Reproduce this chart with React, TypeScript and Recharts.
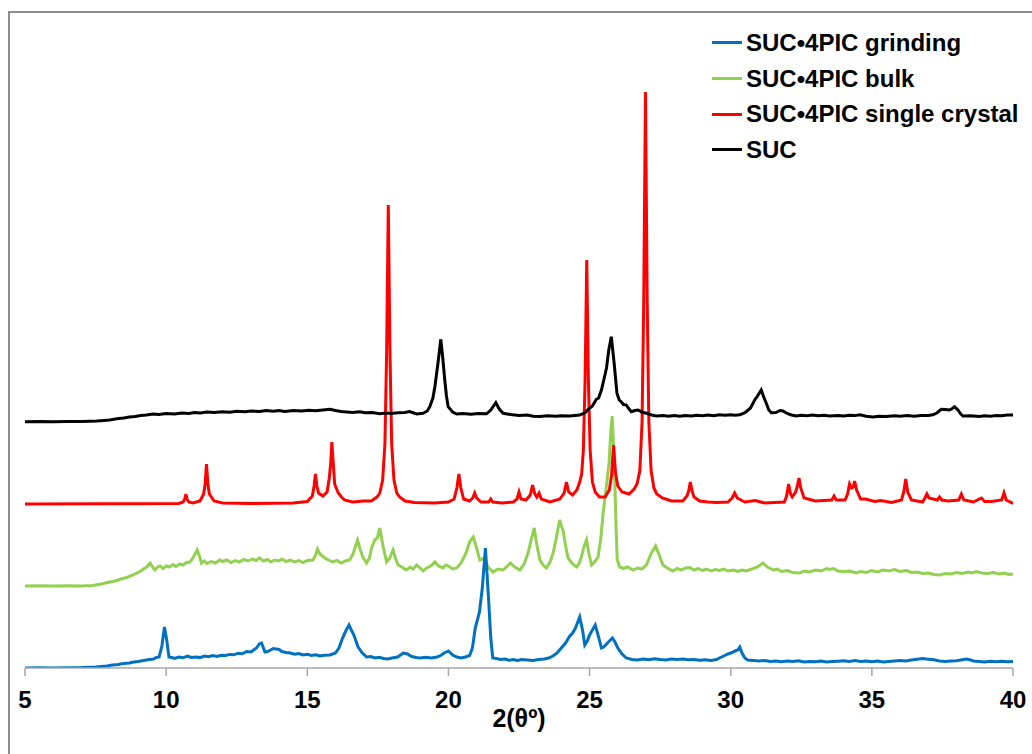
import { LineChart, Line, XAxis, YAxis } from 'recharts'

// 2θ positions and intensity (height above the axis, arbitrary units)
const xTicks = [5, 10, 15, 20, 25, 30, 35, 40]

const grinding: [number, number][] = [
  [5.0, 0], [5.5, 0.2], [6.0, 0], [6.5, 0.3], [7.0, 0.4], [7.3, 0.8], [7.5, 1], [7.7, 1.6],
  [7.9, 2], [8.1, 2.9], [8.3, 3.5], [8.5, 4.6], [8.7, 5], [8.8, 5.8], [9.0, 6.5], [9.2, 7.5],
  [9.35, 8.3], [9.55, 9], [9.65, 10.5], [9.75, 11], [9.85, 22], [9.94, 41], [10.02, 28],
  [10.1, 11], [10.2, 10.5], [10.3, 9.5], [10.45, 11], [10.6, 10.2], [10.75, 11.8], [10.9, 10.5],
  [11.05, 11], [11.2, 10.4], [11.35, 12], [11.5, 11.2], [11.65, 12.4], [11.8, 11.6], [11.95, 12.8],
  [12.1, 12.5], [12.25, 13.6], [12.4, 13.2], [12.55, 14.8], [12.7, 14.2], [12.85, 16.5], [13.0, 16],
  [13.1, 18], [13.2, 20], [13.3, 24], [13.38, 25], [13.5, 16], [13.6, 16.5], [13.7, 18],
  [13.8, 19.5], [13.9, 19], [14.0, 18.5], [14.1, 16.5], [14.25, 15.5], [14.4, 15], [14.55, 13.8],
  [14.7, 14.5], [14.85, 13], [15.0, 13.8], [15.15, 12.5], [15.3, 13.2], [15.45, 12], [15.6, 12.8],
  [15.8, 13], [16.0, 15], [16.12, 20], [16.25, 30], [16.38, 38], [16.48, 43], [16.56, 38],
  [16.65, 33], [16.8, 21], [16.95, 15], [17.1, 11], [17.25, 11.5], [17.4, 10], [17.55, 10.8],
  [17.7, 9.5], [17.85, 9], [18.0, 10], [18.2, 11], [18.4, 15], [18.55, 14], [18.7, 11.5],
  [18.85, 10.5], [19.0, 10], [19.2, 10.8], [19.4, 10], [19.6, 11], [19.75, 13], [19.85, 15],
  [20.0, 17], [20.15, 13], [20.3, 11], [20.45, 10], [20.6, 11], [20.75, 12.5], [20.85, 20],
  [20.95, 40], [21.1, 56], [21.2, 80], [21.31, 120], [21.42, 70], [21.5, 30], [21.57, 10],
  [21.7, 9.5], [21.85, 8.5], [22.0, 9], [22.15, 7.8], [22.3, 8.5], [22.45, 7.5], [22.6, 8.5],
  [22.8, 8], [23.0, 7.5], [23.2, 8.5], [23.4, 9], [23.55, 10], [23.7, 12], [23.85, 15], [24.0, 20],
  [24.15, 25], [24.3, 32], [24.4, 35], [24.5, 40], [24.65, 51], [24.75, 38], [24.83, 23],
  [24.92, 27], [25.0, 33], [25.1, 38], [25.2, 43], [25.3, 33], [25.42, 20], [25.5, 21], [25.6, 24],
  [25.7, 27], [25.81, 30], [25.9, 26], [26.0, 20], [26.15, 14], [26.3, 10], [26.5, 8.5], [26.7, 8],
  [26.9, 9], [27.1, 8.2], [27.3, 9.2], [27.5, 8.5], [27.7, 8], [27.9, 9], [28.1, 8.4], [28.3, 9],
  [28.5, 8.2], [28.7, 8.6], [28.9, 7.8], [29.1, 8.2], [29.3, 7.5], [29.5, 8.5], [29.6, 10],
  [29.75, 12], [29.9, 14], [30.05, 15.5], [30.15, 17], [30.25, 18], [30.32, 21], [30.4, 15],
  [30.5, 10], [30.6, 8], [30.8, 7.6], [31.0, 7], [31.2, 7.5], [31.4, 6.5], [31.6, 7], [31.8, 6.2],
  [32.0, 7], [32.2, 6.4], [32.4, 7.2], [32.6, 6], [32.8, 6.6], [33.0, 6.2], [33.2, 7], [33.4, 6],
  [33.6, 6.5], [33.8, 6.8], [34.0, 7.2], [34.2, 6.5], [34.4, 7.4], [34.6, 6.5], [34.8, 7],
  [35.0, 6.2], [35.2, 7], [35.4, 6], [35.6, 6.5], [35.8, 7], [36.0, 7.5], [36.2, 7], [36.4, 8],
  [36.6, 8.8], [36.8, 9.5], [37.0, 8.8], [37.2, 8.2], [37.4, 7], [37.6, 6.5], [37.8, 7], [38.0, 7.2],
  [38.2, 8.2], [38.35, 9], [38.5, 8], [38.6, 7], [38.8, 6.5], [39.0, 6], [39.2, 6.8], [39.4, 6.2],
  [39.6, 6.8], [39.8, 6.2], [40.0, 6.5],
]

const bulk: [number, number][] = [
  [5.0, 82], [5.5, 82.2], [6.0, 82], [6.5, 82.3], [7.0, 82], [7.4, 82.5], [7.7, 84], [8.0, 86],
  [8.2, 87], [8.4, 89], [8.6, 90.5], [8.83, 93], [9.0, 95.5], [9.1, 97], [9.2, 99], [9.31, 101],
  [9.43, 105], [9.52, 101], [9.6, 98], [9.7, 101], [9.78, 102], [9.9, 99.5], [10.0, 102],
  [10.1, 101], [10.25, 103.5], [10.35, 101.5], [10.49, 104], [10.6, 103], [10.72, 105.5],
  [10.84, 106], [10.95, 110], [11.1, 118], [11.18, 112], [11.25, 105], [11.35, 107], [11.45, 104.5],
  [11.6, 106.5], [11.75, 105], [11.9, 108], [12.0, 106.5], [12.15, 108], [12.3, 105.5],
  [12.45, 107.5], [12.6, 106], [12.75, 108.5], [12.9, 107], [13.05, 109], [13.2, 107.5],
  [13.3, 110], [13.45, 107], [13.6, 108.5], [13.7, 106], [13.85, 108], [14.0, 107], [14.1, 109],
  [14.25, 106.5], [14.4, 108], [14.55, 106], [14.7, 107.5], [14.85, 105.5], [15.0, 107.5],
  [15.2, 108], [15.3, 113], [15.36, 119], [15.45, 114], [15.62, 110], [15.75, 108], [15.9, 106],
  [16.05, 107.5], [16.2, 105], [16.35, 107], [16.5, 108], [16.62, 114], [16.78, 128], [16.88, 118],
  [16.97, 111], [17.1, 105], [17.2, 110], [17.28, 120], [17.39, 128], [17.48, 130], [17.57, 140],
  [17.63, 130], [17.69, 121], [17.81, 106], [17.92, 110], [18.04, 118], [18.12, 110], [18.22, 103],
  [18.35, 101], [18.5, 98], [18.65, 101], [18.75, 99], [18.87, 103], [19.0, 100], [19.1, 97],
  [19.2, 99.5], [19.3, 101], [19.42, 103], [19.52, 106], [19.65, 102], [19.81, 100], [19.9, 103],
  [20.0, 102], [20.15, 99], [20.29, 100], [20.45, 105], [20.64, 116], [20.75, 126], [20.88, 131],
  [20.98, 122], [21.11, 108], [21.2, 109], [21.29, 110], [21.4, 101], [21.58, 96], [21.75, 99],
  [21.94, 98], [22.05, 101], [22.2, 105], [22.35, 101], [22.53, 98], [22.68, 104], [22.82, 115],
  [22.93, 128], [23.04, 140], [23.12, 125], [23.24, 108], [23.35, 103], [23.47, 100], [23.6, 106],
  [23.71, 115], [23.82, 130], [23.94, 148], [24.0, 142], [24.06, 138], [24.15, 122], [24.24, 110],
  [24.4, 104], [24.54, 101], [24.62, 104], [24.71, 111], [24.8, 121], [24.89, 128], [24.98, 114],
  [25.07, 103], [25.18, 106], [25.3, 111], [25.4, 130], [25.48, 155], [25.58, 178], [25.69, 205],
  [25.75, 235], [25.8, 252], [25.86, 215], [25.9, 180], [25.94, 140], [25.98, 108], [26.07, 101],
  [26.2, 99.5], [26.35, 101], [26.54, 98], [26.7, 100], [26.85, 99], [27.01, 103], [27.1, 109],
  [27.19, 115], [27.34, 122], [27.45, 114], [27.6, 103], [27.75, 100], [27.96, 97], [28.1, 99.5],
  [28.25, 98], [28.4, 100], [28.55, 100.5], [28.7, 98], [28.85, 99.5], [29.0, 97.5], [29.15, 99],
  [29.3, 97], [29.45, 98.5], [29.6, 97.5], [29.75, 99], [29.9, 97], [30.1, 98], [30.25, 96.5],
  [30.4, 98], [30.55, 97], [30.75, 99], [30.95, 101], [31.14, 105], [31.3, 101], [31.5, 98],
  [31.65, 99], [31.8, 96.5], [32.0, 97.5], [32.2, 95.5], [32.44, 95], [32.6, 97], [32.8, 96],
  [33.0, 98], [33.2, 97], [33.4, 99.5], [33.5, 98.5], [33.65, 99.5], [33.8, 97], [34.0, 96.5],
  [34.2, 97], [34.45, 95], [34.6, 96.5], [34.8, 95.5], [35.0, 97.5], [35.2, 96], [35.4, 98],
  [35.6, 97], [35.8, 98.5], [36.0, 96.5], [36.22, 97.5], [36.4, 95.5], [36.6, 96], [36.8, 94.5],
  [37.0, 95], [37.2, 93.5], [37.4, 93], [37.6, 94.5], [37.8, 94], [38.0, 95.5], [38.2, 94.5],
  [38.4, 96], [38.55, 95], [38.7, 96.5], [38.9, 95], [39.1, 94.5], [39.3, 95.5], [39.5, 94],
  [39.7, 95], [39.85, 93.5], [40.0, 94],
]

const singleCrystal: [number, number][] = [
  [5.0, 164], [10.45, 164.5], [10.6, 166], [10.66, 169], [10.7, 174], [10.74, 169], [10.8, 166],
  [10.95, 165], [11.2, 167], [11.33, 174], [11.38, 184], [11.43, 204], [11.48, 184], [11.53, 174],
  [11.7, 167], [12.0, 165], [13.0, 164.5], [14.5, 165], [15.0, 166.5], [15.18, 172], [15.24, 182],
  [15.29, 194], [15.34, 182], [15.4, 175], [15.55, 172], [15.7, 176], [15.78, 190], [15.83, 205],
  [15.87, 226], [15.92, 205], [15.97, 184], [16.04, 179], [16.1, 175], [16.21, 171], [16.32, 168],
  [16.6, 166], [17.0, 167], [17.27, 167], [17.47, 171], [17.57, 175], [17.67, 188], [17.75, 224],
  [17.81, 314], [17.87, 463], [17.93, 314], [17.99, 224], [18.07, 188], [18.17, 175],
  [18.27, 171], [18.47, 167], [18.8, 165.5], [19.5, 165], [20.0, 166], [20.2, 169], [20.3, 180],
  [20.37, 194], [20.44, 180], [20.54, 169], [20.75, 167], [20.86, 170], [20.93, 175], [21.0, 170],
  [21.15, 166], [21.43, 166], [21.5, 169], [21.57, 166], [21.9, 165], [22.3, 166], [22.43, 169],
  [22.5, 176], [22.57, 169], [22.75, 168], [22.9, 173], [22.98, 183], [23.06, 174], [23.13, 171],
  [23.21, 175], [23.29, 169], [23.6, 166], [23.95, 169], [24.1, 175], [24.18, 186], [24.26, 176],
  [24.4, 173], [24.55, 178], [24.65, 186], [24.72, 194], [24.78, 218], [24.84, 286], [24.9, 408],
  [24.96, 286], [25.02, 218], [25.1, 186], [25.2, 176], [25.35, 171], [25.55, 171], [25.7, 178],
  [25.78, 193], [25.85, 223], [25.92, 195], [26.0, 182], [26.15, 176], [26.4, 174], [26.58, 179],
  [26.68, 184], [26.78, 197], [26.86, 246], [26.92, 370], [26.98, 576], [27.04, 370], [27.1, 246],
  [27.18, 197], [27.28, 180], [27.38, 174], [27.58, 170], [27.9, 167], [28.3, 167], [28.45, 172],
  [28.51, 177], [28.57, 186], [28.63, 177], [28.7, 171], [28.9, 167], [29.2, 166], [29.49, 165.5],
  [29.9, 166], [30.05, 170], [30.14, 175], [30.23, 170], [30.5, 166], [30.87, 167.5], [31.2, 165],
  [31.9, 166], [31.98, 172], [32.05, 184], [32.12, 174], [32.18, 171], [32.3, 176], [32.36, 182],
  [32.42, 190], [32.48, 180], [32.6, 170], [33.0, 167], [33.58, 168], [33.66, 172], [33.74, 168],
  [34.05, 168], [34.14, 174], [34.21, 184], [34.28, 180], [34.34, 181], [34.39, 187], [34.46, 178],
  [34.6, 169], [34.77, 169], [35.1, 166.5], [35.31, 167.5], [35.7, 165.5], [36.05, 168],
  [36.13, 176], [36.2, 189], [36.27, 176], [36.4, 168], [36.8, 166], [36.88, 170], [36.95, 174],
  [37.02, 170], [37.32, 168], [37.4, 171], [37.48, 168], [37.7, 167], [38.08, 168], [38.17, 174],
  [38.26, 168], [38.6, 166], [38.88, 170], [39.0, 166.5], [39.23, 166.5], [39.6, 168],
  [39.68, 175], [39.76, 168], [40.0, 164.5],
]

const suc: [number, number][] = [
  [5.0, 246.3], [5.5, 246.5], [6.0, 246.3], [6.5, 246.6], [7.0, 246.5], [7.3, 246.7], [7.54, 247],
  [7.8, 247.6], [8.0, 248], [8.25, 249.2], [8.5, 250], [8.7, 251], [8.9, 251.5], [9.1, 252.5],
  [9.3, 253], [9.54, 254], [9.75, 253.5], [10.0, 254.5], [10.3, 254], [10.55, 255], [10.8, 254.5],
  [11.0, 255.5], [11.2, 255], [11.45, 256], [11.7, 255.5], [12.0, 256.3], [12.25, 255.8],
  [12.5, 256.8], [12.8, 256.2], [13.0, 257], [13.3, 256.5], [13.56, 257.5], [13.8, 256.8],
  [14.0, 257.4], [14.2, 256.6], [14.5, 257.6], [14.8, 257], [15.05, 257.8], [15.3, 257.2],
  [15.55, 258], [15.8, 258.7], [16.0, 257.5], [16.2, 256.5], [16.4, 256], [16.6, 255.6],
  [16.85, 256.2], [17.05, 255.2], [17.3, 255.4], [17.57, 254.3], [17.8, 255], [18.0, 254.5],
  [18.2, 255.2], [18.45, 255.5], [18.63, 256.5], [18.87, 254], [19.1, 254.7], [19.25, 257],
  [19.34, 261.3], [19.45, 270], [19.52, 281.3], [19.63, 305], [19.73, 328.7], [19.8, 310],
  [19.87, 288], [19.93, 272], [19.99, 261.3], [20.15, 256], [20.29, 254], [20.5, 254.6],
  [20.8, 253.8], [21.05, 254.5], [21.35, 254.2], [21.5, 258], [21.68, 265.3], [21.8, 259],
  [21.94, 254.7], [22.2, 253.5], [22.5, 252.5], [22.8, 253], [23.0, 251.8], [23.24, 251.5],
  [23.5, 252.3], [23.8, 251.8], [24.0, 252.3], [24.3, 252], [24.65, 253], [24.85, 255.5],
  [24.95, 258.7], [25.1, 262], [25.24, 268.7], [25.32, 270], [25.42, 278], [25.52, 290],
  [25.6, 300], [25.68, 318], [25.77, 331.3], [25.87, 305], [25.97, 274.7], [26.05, 268],
  [26.13, 266], [26.2, 263.5], [26.3, 263], [26.4, 259], [26.48, 256.3], [26.6, 257.5],
  [26.72, 258], [26.85, 256], [27.01, 254.7], [27.2, 253], [27.37, 252], [27.6, 252.6],
  [27.8, 251.8], [28.0, 252.4], [28.19, 251.8], [28.4, 252.6], [28.6, 252], [28.8, 252.8],
  [29.0, 252.3], [29.2, 253], [29.4, 252.2], [29.6, 253.2], [29.8, 252.8], [30.0, 253.3],
  [30.15, 252.8], [30.32, 253.3], [30.45, 254.5], [30.55, 256.3], [30.7, 260], [30.85, 268],
  [30.95, 272], [31.08, 278], [31.17, 271], [31.26, 264.7], [31.35, 258], [31.44, 255.3],
  [31.6, 255.5], [31.75, 257.5], [31.85, 257], [32.0, 254.5], [32.15, 253], [32.33, 252],
  [32.5, 252.8], [32.7, 252.2], [32.9, 253], [33.1, 252.2], [33.3, 252.8], [33.5, 252],
  [33.8, 252.5], [34.0, 252], [34.2, 252.8], [34.4, 252.4], [34.57, 253.3], [34.8, 251.8],
  [35.04, 251], [35.25, 251.8], [35.5, 251.4], [35.8, 252.3], [36.0, 251.8], [36.25, 252.4],
  [36.5, 251.8], [36.75, 252.6], [37.0, 252.4], [37.16, 253.2], [37.3, 255], [37.46, 258.7],
  [37.6, 258.5], [37.75, 258], [37.85, 259.5], [37.93, 261.3], [38.05, 258], [38.15, 254],
  [38.23, 252], [38.5, 252.3], [38.8, 251.5], [39.0, 252.2], [39.2, 251.8], [39.4, 252.6],
  [39.6, 252.2], [39.8, 253], [40.0, 253],
]

const FONT = 'Arial, "Liberation Sans", sans-serif'

// drawing order (bottom to top) differs from the legend order
const series = [
  { id: 'bulk', name: 'SUC\u20224PIC bulk', color: '#92d050', points: bulk },
  { id: 'grinding', name: 'SUC\u20224PIC grinding', color: '#0070c0', points: grinding },
  { id: 'crystal', name: 'SUC\u20224PIC single crystal', color: '#ff0000', points: singleCrystal },
  { id: 'suc', name: 'SUC', color: '#000000', points: suc },
]
const legendOrder = ['grinding', 'bulk', 'crystal', 'suc']

const toRows = (pts: [number, number][]) => pts.map(([x, y]) => ({ x, y }))

function LegendBox() {
  return (
    <div style={{ position: 'absolute', left: 712, top: 25, fontFamily: FONT }}>
      {legendOrder.map((id) => {
        const s = series.find((d) => d.id === id)!
        return (
          <div key={id} style={{ display: 'flex', alignItems: 'center', height: 35.7 }}>
            <div style={{ width: 30, height: 3, background: s.color, marginRight: 4 }} />
            <span style={{ fontSize: 24, fontWeight: 'bold', color: '#000', whiteSpace: 'nowrap' }}>
              {s.name}
            </span>
          </div>
        )
      })}
    </div>
  )
}

export default function App() {
  return (
    <div
      style={{
        position: 'absolute',
        left: 0,
        top: 0,
        width: 1032,
        height: 754,
        overflow: 'hidden',
        background: '#fff',
      }}
    >
      <div
        style={{
          position: 'absolute',
          left: 8,
          top: 11,
          width: 1100,
          height: 800,
          border: '2px solid #8c8c8c',
        }}
      />
      <LineChart
        width={1032}
        height={754}
        margin={{ top: 20, right: 19, left: 25, bottom: 26 }}
        style={{ position: 'absolute', left: 0, top: 0 }}
      >
        <XAxis
          dataKey="x"
          type="number"
          domain={[5, 40]}
          ticks={xTicks}
          height={60}
          allowDataOverflow
          stroke="#a6a6a6"
          axisLine={{ stroke: '#a6a6a6', strokeWidth: 1.5 }}
          tickLine={{ stroke: '#a6a6a6', strokeWidth: 1.5 }}
          tickSize={8}
          tickMargin={15}
          tick={{ fill: '#000', fontSize: 24, fontWeight: 'bold', fontFamily: FONT }}
          label={{
            value: '2(θº)',
            position: 'bottom',
            offset: -19,
            fill: '#000',
            fontSize: 25,
            fontWeight: 'bold',
            fontFamily: FONT,
          }}
        />
        <YAxis type="number" domain={[0, 648]} hide allowDataOverflow />
        {series.map((s) => (
          <Line
            key={s.id}
            data={toRows(s.points)}
            dataKey="y"
            name={s.name}
            type="linear"
            stroke={s.color}
            strokeWidth={3}
            dot={false}
            activeDot={false}
            isAnimationActive={false}
          />
        ))}
      </LineChart>
      <LegendBox />
    </div>
  )
}
